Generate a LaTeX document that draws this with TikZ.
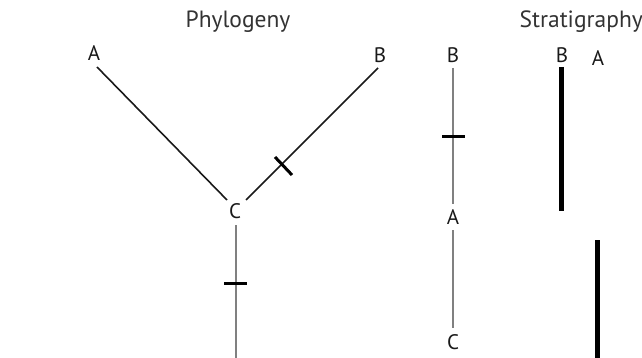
\documentclass[tikz,border=0pt]{standalone}
\usepackage{fontspec}
\setmainfont{PT Sans}
\begin{document}
\begin{tikzpicture}[x=1pt,y=-1pt,
  lbl/.style={inner sep=0pt, font=\fontsize{21}{21}\selectfont, text=black!90},
  ttl/.style={inner sep=0pt, font=\fontsize{23.5}{23.5}\selectfont, text=black!80},
  branch/.style={draw=black!90, line width=1.6pt},
  lineage/.style={draw=black!50, line width=2pt},
  tickmark/.style={draw=black, line width=3pt},
  rangebar/.style={draw=black, line width=5pt}]
\useasboundingbox (0,0) rectangle (642,358);
% titles
\node[ttl] (tphy) at (238,22) {Phylogeny};
\node[ttl, anchor=east] (tstr) at (643,22) {Stratigraphy};
% phylogeny
\node[lbl] (pA) at (94,53) {A};
\node[lbl] (pB) at (380,55) {B};
\node[lbl] (pC) at (235,211) {C};
\coordinate (a1) at (97,67);
\coordinate (a2) at (227,200);
\coordinate (b1) at (378,68);
\coordinate (b2) at (246,200);
\coordinate (c1) at (236,225);
\coordinate (c2) at (236,358);
\draw[branch] (a1) -- (a2);
\draw[branch] (b1) -- (b2);
\draw[lineage] (c1) -- (c2);
\coordinate (tb1) at (275,157);
\coordinate (tb2) at (292,175);
\draw[tickmark] (tb1) -- (tb2);
\coordinate (tc1) at (224,283);
\coordinate (tc2) at (247,283);
\draw[tickmark] (tc1) -- (tc2);
% stratigraphic lineage
\node[lbl] (sB) at (453,55) {B};
\node[lbl] (sA) at (453,217) {A};
\node[lbl] (sC) at (453,342) {C};
\coordinate (s1) at (453,68);
\coordinate (s2) at (453,204);
\coordinate (s3) at (453,230);
\coordinate (s4) at (453,328);
\draw[lineage] (s1) -- (s2);
\draw[lineage] (s3) -- (s4);
\coordinate (ts1) at (442,137);
\coordinate (ts2) at (465,137);
\draw[tickmark] (ts1) -- (ts2);
% stratigraphic ranges
\node[lbl] (rB) at (562,55) {B};
\node[lbl] (rA) at (598,58) {A};
\coordinate (r1) at (561,67);
\coordinate (r2) at (561,211);
\coordinate (r3) at (597,240);
\coordinate (r4) at (597,358);
\draw[rangebar] (r1) -- (r2);
\draw[rangebar] (r3) -- (r4);
\end{tikzpicture}
\end{document}
